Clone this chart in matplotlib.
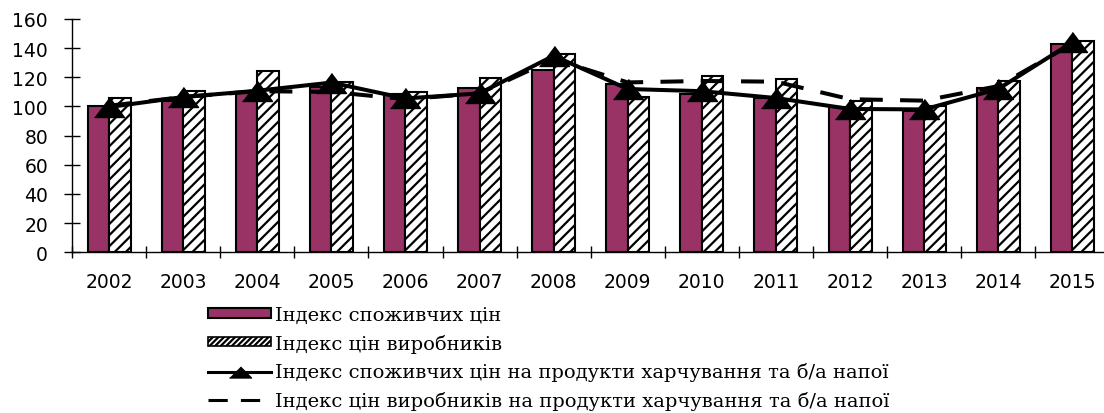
import matplotlib
matplotlib.use("Agg")
import matplotlib.pyplot as plt
from matplotlib.lines import Line2D
from matplotlib.patches import Patch
import numpy as np

YEARS = ["2002", "2003", "2004", "2005", "2006", "2007", "2008",
         "2009", "2010", "2011", "2012", "2013", "2014", "2015"]
CPI = [100.5, 104.0, 109.0, 113.1, 108.6, 112.5, 124.8,
       115.6, 108.8, 105.6, 99.4, 97.2, 112.5, 143.0]
PPI = [105.8, 110.8, 124.1, 117.0, 110.0, 119.3, 136.0,
       106.3, 121.0, 118.8, 104.0, 100.1, 117.7, 144.7]
CPI_FOOD = [99.6, 106.5, 110.8, 116.4, 105.5, 109.0, 134.8,
            112.0, 110.5, 105.8, 98.3, 98.0, 112.0, 144.0]
PPI_FOOD = [100.5, 106.5, 110.5, 110.0, 105.0, 109.0, 132.5,
            116.5, 117.5, 117.0, 105.0, 104.0, 114.0, 143.0]

LABELS = [
    "Індекс споживчих цін",
    "Індекс цін виробників",
    "Індекс споживчих цін на продукти харчування та б/а напої",
    "Індекс цін виробників на продукти харчування та б/а напої",
]

PURPLE = "#993366"
TRI = [(-1.5, -1.0), (1.5, -1.0), (0.0, 1.0)]
TRI_FLAT = [(-2.0, -1.0), (2.0, -1.0), (0.0, 1.0)]

W, H = 1104, 414


def main() -> None:
    plt.rcParams.update({
        "font.family": "DejaVu Sans",
        "hatch.linewidth": 1.6,
    })

    fig = plt.figure(figsize=(W / 100, H / 100), dpi=100)
    ax = fig.add_axes([72 / W, 1 - 253.3 / H, 1037.4 / W, 233.3 / H])

    x = np.arange(len(YEARS))
    width = 0.29
    ax.bar(x - width / 2, CPI, width=width, color=PURPLE,
           edgecolor="black", linewidth=1.5, zorder=2)
    ax.bar(x + width / 2, PPI, width=width, color="white", hatch="///",
           edgecolor="black", linewidth=1.5, zorder=2)

    ax.plot(x, PPI_FOOD, color="black", linewidth=2.9,
            dashes=(5.7, 4.3), zorder=3)
    ax.plot(x, CPI_FOOD, color="black", linewidth=2.9,
            marker=TRI, markersize=21.6, zorder=4)

    ax.set_xlim(-0.5, len(YEARS) - 0.5)
    ax.set_ylim(0, 160)
    ax.set_yticks(np.arange(0, 161, 20))
    ax.set_xticks(np.arange(len(YEARS) + 1) - 0.5)
    ax.set_xticklabels([])
    ax.set_xticks(x, minor=True)
    ax.set_xticklabels(YEARS, minor=True)

    ax.tick_params(axis="y", direction="inout", length=11.5, width=1,
                   pad=11.5, labelsize=13.5)
    ax.tick_params(axis="x", which="major", direction="inout", length=8,
                   width=1)
    ax.tick_params(axis="x", which="minor", length=0, pad=14.5,
                   labelsize=13.5)

    for side in ("top", "right"):
        ax.spines[side].set_visible(False)
    for side in ("left", "bottom"):
        ax.spines[side].set_linewidth(1)

    handles = [
        Patch(facecolor=PURPLE, edgecolor="black", linewidth=1.5),
        Patch(facecolor="white", edgecolor="black", hatch="//////",
              linewidth=1.2),
        Line2D([], [], color="black", linewidth=2.2, marker=TRI_FLAT,
               markersize=15.8),
        Line2D([], [], color="black", linewidth=2.2, dashes=(6.3, 4.3)),
    ]
    fig.legend(
        handles, LABELS,
        loc="upper left",
        bbox_to_anchor=(208 / W, 1 - 307 / H),
        frameon=False,
        borderpad=0,
        borderaxespad=0,
        handlelength=3.24,
        handleheight=0.34,
        handletextpad=0.2,
        labelspacing=0.5,
        prop={"family": "DejaVu Serif", "size": 14},
    )

    fig.savefig("out.png", dpi=100)
    plt.close(fig)


if __name__ == "__main__":
    main()
